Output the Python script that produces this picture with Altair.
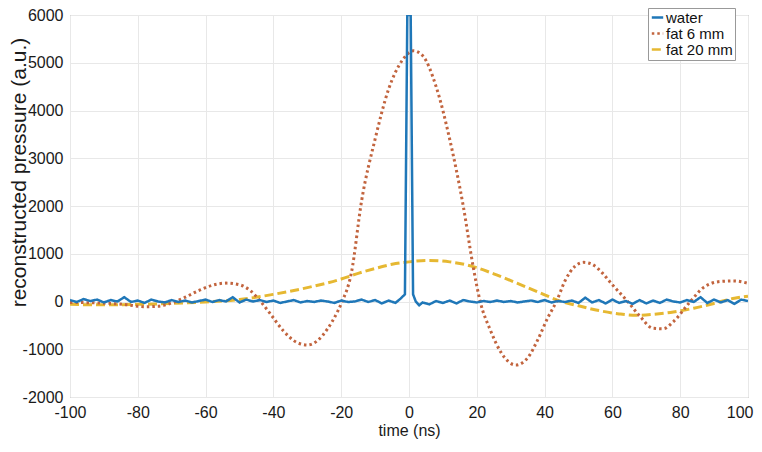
import altair as alt
import pandas as pd

# ---------------- data ----------------
series_names = ["water", "fat 6 mm", "fat 20 mm"]

water_t = [-100, -98, -96, -94, -92, -90, -88, -86, -84, -82, -80, -78, -76, -74, -72, -70,
           -68, -66, -64, -62, -60, -58, -56, -54, -52, -50, -48, -46, -44, -42, -40, -38,
           -36, -34, -32, -30, -28, -26, -24, -22, -20, -18, -16, -14, -12, -10, -8, -6, -4,
           -2.5, -1.2, -0.5, 0.5, 1.2, 2, 3,
           4, 6, 8, 10, 12, 14, 16, 18, 20, 22, 24, 26, 28, 30, 32, 34, 36, 38, 40, 42, 44,
           46, 48, 50, 52, 54, 56, 58, 60, 62, 64, 66, 68, 70, 72, 74, 76, 78, 80, 82, 84,
           86, 88, 90, 92, 94, 96, 98, 100]
water_v = [30, -10, 50, 10, 40, -20, 30, 0, 90, -10, 20, -30, 40, 0, -20, 30,
           -10, 20, -20, 10, 40, -10, 30, 0, 90, -20, 40, 0, 30, -10, 20, -30,
           0, 30, -20, 10, -10, 20, 0, -30, 20, -10, 0, 40, -10, 30, -40, 20, -30,
           60, 150, 6000, 6000, 150, 0, -80,
           -20, -60, 10, -30, 20, -40, 30, 0, -20, 10, -10, 20, -10, 10, -20, 0, 20, -10, 30, -20, 10,
           -10, 20, -30, 80, -20, 30, -40, 40, -30, 10, -50, 30, -40, 20, -30, 40, 0, -20, 30, -10,
           90, -30, 40, -20, 30, -50, 40, 10]

fat6_t = [-100, -92, -84, -78, -74, -70, -66, -62, -58, -54, -50, -47, -44, -41, -37, -33,
          -30, -27, -24, -21, -19.7, -17, -14, -10, -6, -2, 1.3, 4, 8, 12, 16, 19, 21,
          24, 27, 31.5, 35, 38, 41, 43.5, 46, 49, 51.5, 54, 57, 60, 64.5, 68, 72, 75,
          78, 83, 87, 92, 96, 100]
fat6_v = [-20, -30, -60, -110, -100, -30, 90, 230, 340, 385, 350, 240, 20, -250, -620, -860,
          -910, -820, -570, -200, 0, 600, 2100, 3400, 4450, 5050, 5250, 5150, 4500, 3400, 2000, 700, 0,
          -600, -1050, -1330, -1180, -800, -330, 0, 430, 740, 820, 780, 600, 350, 0, -300, -560, -570,
          -420, 0, 300, 420, 430, 380]

fat20_t = [-100, -90, -80, -70, -60, -50, -40, -30, -20, -15, -10, -5, 0, 6, 12, 18, 25, 32,
           38, 45, 50, 56, 62, 67, 72, 78, 84, 90, 96, 100]
fat20_v = [-60, -70, -60, -40, -10, 40, 150, 290, 470, 590, 690, 780, 830, 860, 830, 750, 580, 380,
           200, 0, -90, -190, -260, -290, -270, -220, -140, -40, 70, 110]

x_ticks = [-100, -80, -60, -40, -20, 0, 20, 40, 60, 80, 100]
y_ticks = [-2000, -1000, 0, 1000, 2000, 3000, 4000, 5000, 6000]

colors = ["#1f77b8", "#c2643e", "#e6b832"]
dashes = [[1, 0], [2.5, 3], [9, 4]]

# ---------------- table ----------------
rows = []
for name, ts, vs in [("water", water_t, water_v),
                     ("fat 6 mm", fat6_t, fat6_v),
                     ("fat 20 mm", fat20_t, fat20_v)]:
    for t, v in zip(ts, vs):
        rows.append({"series": name, "time": t, "pressure": v})
df = pd.DataFrame(rows)

W, H = 678, 382

x_enc = alt.X("time:Q",
              scale=alt.Scale(domain=[-100, 100], nice=False, zero=False),
              axis=alt.Axis(values=x_ticks, title="time (ns)", ticks=False,
                            labelExpr="'' + datum.value", labelFlush=False,
                            labelAlign={"condition": {"test": "datum.value == 100", "value": "right"},
                                        "value": "center"},
                            labelOffset={"condition": {"test": "datum.value == 100", "value": 5},
                                         "value": 0},
                            labelPadding=7, titlePadding=2, labelFontSize=16,
                            titleFontSize=16, titleFontWeight="normal",
                            gridColor="#e8e8e8", domain=False))
y_enc = alt.Y("pressure:Q",
              scale=alt.Scale(domain=[-2000, 6000], nice=False, zero=False),
              axis=alt.Axis(values=y_ticks, title="reconstructed pressure (a.u.)",
                            labelExpr="'' + datum.value",
                            ticks=False, labelPadding=7, labelFontSize=16,
                            titleFontSize=21, titleFontWeight="normal",
                            titleX=-41, titleY=157,
                            gridColor="#e8e8e8", domain=False))
color_enc = alt.Color("series:N",
                      scale=alt.Scale(domain=series_names, range=colors),
                      legend=alt.Legend(title=None, orient="none", legendX=578, legendY=-7,
                                        symbolType="stroke", symbolSize=130,
                                        symbolStrokeWidth=2.5, labelFontSize=15,
                                        padding=2, rowPadding=0, labelOffset=1,
                                        strokeColor="#999999", fillColor="white",
                                        cornerRadius=0, labelColor="#111111"))
dash_enc = alt.StrokeDash("series:N",
                          scale=alt.Scale(domain=series_names, range=dashes),
                          legend=None)

base = alt.Chart(df).encode(x=x_enc, y=y_enc, color=color_enc, strokeDash=dash_enc)

l20 = base.transform_filter(alt.datum.series == "fat 20 mm").mark_line(
    strokeWidth=3, interpolate="monotone", clip=True)
l6 = base.transform_filter(alt.datum.series == "fat 6 mm").mark_line(
    strokeWidth=3, interpolate="monotone", clip=True, strokeCap="butt")
lw = base.transform_filter(alt.datum.series == "water").mark_line(
    strokeWidth=2.5, clip=True)

chart = alt.layer(l20, l6, lw).properties(
    width=W, height=H,
    autosize=alt.AutoSizeParams(type="none"),
    padding={"left": 62, "top": 7, "right": 6, "bottom": 46},
).configure_view(
    stroke="#8c8c8c", strokeWidth=1
).configure_axis(
    labelFont="Liberation Sans", titleFont="Liberation Sans",
    labelColor="#1a1a1a", titleColor="#1a1a1a"
).configure_legend(
    labelFont="Liberation Sans"
)

chart.save("out.html", embed_options={"renderer": "svg", "actions": False})
